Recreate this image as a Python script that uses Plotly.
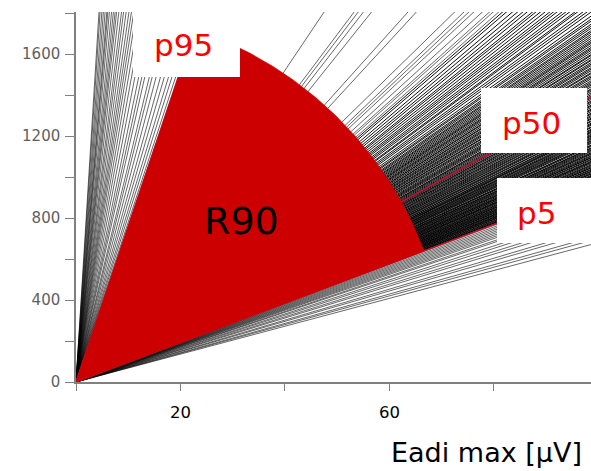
import numpy as np
import plotly.graph_objects as go

# ---------------- data (ratios y/x of each breath line) -------------
steep_slopes = [78, 81, 84, 88, 92, 97, 102, 106, 113, 118, 124, 132, 140, 148, 156, 163,
                170, 178, 188, 198, 207, 220, 232, 241, 252, 265, 282, 296, 306, 324,
                344, 365, 391, 410]
sparse_slopes = [22.3, 22.6, 22.8, 23.2, 23.7, 24.0, 24.3, 24.9, 27.7, 28.4, 31.9, 32.8,
                 33.4, 33.9, 38.0]
upper_slopes = [18.3, 18.45, 18.6, 18.8, 18.9, 19.1, 19.25, 19.4, 19.6, 19.75, 19.9, 20.1,
                20.3, 20.5, 20.65, 20.9, 21.1, 21.35, 21.6, 21.9, 22.1]
mid_high_slopes = [14.15, 14.22, 14.3, 14.38, 14.45, 14.5, 14.6, 14.68, 14.75, 14.82, 14.9,
                   15.0, 15.08, 15.15, 15.25, 15.3, 15.4, 15.48, 15.55, 15.65, 15.72, 15.8,
                   15.9, 15.95, 16.05, 16.15, 16.2, 16.3, 16.4, 16.48, 16.55, 16.65, 16.75,
                   16.82, 16.9, 17.0, 17.1, 17.2, 17.3, 17.38, 17.5, 17.6, 17.7, 17.85,
                   17.95, 18.1]
mid_low_slopes = [9.62, 9.68, 9.7, 9.75, 9.8, 9.84, 9.9, 9.93, 9.98, 10.02, 10.05, 10.1,
                  10.15, 10.18, 10.22, 10.28, 10.3, 10.35, 10.4, 10.43, 10.48, 10.52, 10.58,
                  10.6, 10.65, 10.7, 10.74, 10.8, 10.85, 10.88, 10.92, 10.98, 11.02, 11.08,
                  11.1, 11.15, 11.2, 11.26, 11.3, 11.34, 11.4, 11.45, 11.5, 11.55, 11.58,
                  11.65, 11.7, 11.72, 11.8, 11.85, 11.9, 11.94, 12.0, 12.05, 12.1, 12.16,
                  12.2, 12.25, 12.32, 12.36, 12.4, 12.46, 12.5, 12.58, 12.62, 12.7, 12.75,
                  12.8, 12.88, 12.92, 13.0, 13.05, 13.12, 13.18, 13.25, 13.3, 13.38, 13.45,
                  13.5, 13.58, 13.65, 13.7, 13.78, 13.85, 13.9, 13.98, 14.05]
low_slopes = [6.8, 7.0, 7.15, 7.4, 7.55, 7.8, 7.95, 8.15, 8.3, 8.5, 8.6, 8.75, 8.85,
              8.95, 9.05, 9.15, 9.25, 9.35, 9.45, 9.55]

percentile_names = ["p5", "p50", "p95"]
percentile_slopes = [9.6, 14.1, 76.0]

# R90 sector: radius along x axis (μV) and along y axis
r90_x = 71.2
r90_y = 1815

x_tick_vals = [0, 20, 40, 60, 80]
x_tick_text = ["", "20", "", "60", ""]
y_tick_vals = [0, 200, 400, 600, 800, 1000, 1200, 1400, 1600, 1800]
y_tick_text = ["0", "", "400", "", "800", "", "1200", "", "1600", ""]

x_title = "Eadi max [μV]"
x_range = [0, 98.6]
y_range = [0, 1805]

# ---------------- layout constants ----------------
W, H = 591, 471
ML, MR, MT, MB = 76, 0, 12, 89
PW, PH = W - ML - MR, H - MT - MB


def px(x):
    return (x - ML) / PW


def py(y):
    return (H - MB - y) / PH


X_END = 100.0


def fan(slopes):
    xs, ys = [], []
    for s in slopes:
        xs += [0, X_END, None]
        ys += [0, s * X_END, None]
    return xs, ys


fig = go.Figure()

lx, ly = fan(steep_slopes + sparse_slopes + low_slopes)
fig.add_trace(go.Scatter(x=lx, y=ly, mode="lines",
                         line=dict(color="rgba(0,0,0,0.75)", width=0.8),
                         hoverinfo="skip", showlegend=False))

lx, ly = fan(upper_slopes + mid_high_slopes + mid_low_slopes)
fig.add_trace(go.Scatter(x=lx, y=ly, mode="lines",
                         line=dict(color="rgba(0,0,0,0.95)", width=1.0),
                         hoverinfo="skip", showlegend=False))

lx, ly = fan(percentile_slopes)
fig.add_trace(go.Scatter(x=lx, y=ly, mode="lines",
                         line=dict(color="#C8102E", width=1.4),
                         hoverinfo="skip", showlegend=False))

# sector between p5 and p95 with R90 radius
t5 = np.arctan(percentile_slopes[0] * r90_x / r90_y)
t95 = np.arctan(percentile_slopes[2] * r90_x / r90_y)
t = np.linspace(t5, t95, 120)
sx = np.concatenate([[0], r90_x * np.cos(t), [0]])
sy = np.concatenate([[0], r90_y * np.sin(t), [0]])
fig.add_trace(go.Scatter(x=sx, y=sy, mode="lines", fill="toself",
                         fillcolor="#CC0000", line=dict(color="#CC0000", width=0.5),
                         hoverinfo="skip", showlegend=False))

# white label boxes
boxes = [(133, 240, 10, 77), (481, 587, 88, 153), (497, 596, 178, 243)]
for x0, x1, y0, y1 in boxes:
    fig.add_shape(type="rect", xref="paper", yref="paper",
                  x0=px(x0), x1=px(x1), y0=py(y1), y1=py(y0),
                  fillcolor="white", line=dict(width=0), layer="above")

label_pos = {"p95": (183, 45), "p50": (531.5, 123), "p5": (536.5, 213)}
for name in percentile_names:
    xx, yy = label_pos[name]
    fig.add_annotation(x=px(xx), y=py(yy), xref="paper", yref="paper",
                       text=name, showarrow=False, xanchor="center", yanchor="middle",
                       font=dict(family="DejaVu Sans", size=31, color="#FF0000"))

fig.add_annotation(x=px(241.5), y=py(221), xref="paper", yref="paper", text="R90",
                   showarrow=False, xanchor="center", yanchor="middle",
                   font=dict(family="DejaVu Sans", size=38, color="black"))

fig.add_annotation(x=px(584), y=py(452), xref="paper", yref="paper", text=x_title,
                   showarrow=False, xanchor="right", yanchor="middle",
                   font=dict(family="DejaVu Sans", size=27, color="black"))

fig.update_layout(
    width=W, height=H,
    margin=dict(l=ML, r=MR, t=MT, b=MB, pad=0),
    paper_bgcolor="white", plot_bgcolor="white",
    showlegend=False,
    xaxis=dict(range=x_range, tickvals=x_tick_vals, ticktext=x_tick_text,
               ticks="outside", ticklen=7, tickcolor="#808080", tickwidth=1.3,
               showline=True, linecolor="#808080", linewidth=1.5,
               showgrid=False, zeroline=False, ticklabelstandoff=7,
               tickfont=dict(family="DejaVu Sans", size=16.5, color="black")),
    yaxis=dict(range=y_range, tickvals=y_tick_vals, ticktext=y_tick_text,
               ticks="outside", ticklen=9, tickcolor="#808080", tickwidth=1.3,
               showline=True, linecolor="#808080", linewidth=1.5,
               showgrid=False, zeroline=False, ticklabelstandoff=2,
               tickfont=dict(family="DejaVu Sans", size=15, color="#606060")),
)

fig.write_html("out.html", config={"displayModeBar": False},
               post_script="document.body.style.margin='0';document.body.style.overflow='hidden';")
